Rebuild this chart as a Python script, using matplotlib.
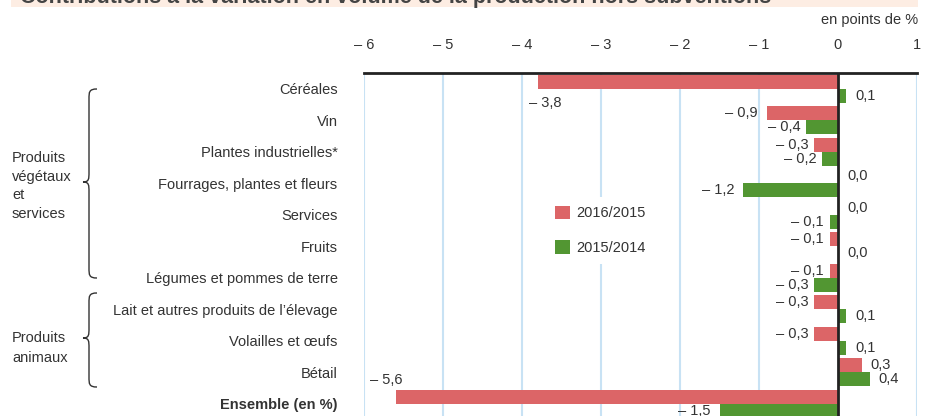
import matplotlib.pyplot as plt
from matplotlib.patches import Rectangle, PathPatch, Patch
from matplotlib.path import Path
from matplotlib import font_manager

# Data
categories = [
    "Céréales",
    "Vin",
    "Plantes industrielles*",
    "Fourrages, plantes et fleurs",
    "Services",
    "Fruits",
    "Légumes et pommes de terre",
    "Lait et autres produits de l’élevage",
    "Volailles et œufs",
    "Bétail",
    "Ensemble (en %)",
]
values_2016 = [-3.8, -0.9, -0.3, 0.0, 0.0, -0.1, -0.1, -0.3, -0.3, 0.3, -5.6]
values_2015 = [0.1, -0.4, -0.2, -1.2, -0.1, 0.0, -0.3, 0.1, 0.1, 0.4, -1.5]
series_labels = ["2016/2015", "2015/2014"]
x_ticks = [-6, -5, -4, -3, -2, -1, 0, 1]

RED = "#dc6567"
GREEN = "#529632"
GRID = "#c8e2f4"
TEXT = "#333333"

names = {f.name for f in font_manager.fontManager.ttflist}
NARROW = "Liberation Sans Narrow" if "Liberation Sans Narrow" in names else "Liberation Sans"
plt.rcParams["font.family"] = ["Liberation Sans", "DejaVu Sans"]


def fmt(v):
    s = f"{abs(v):.1f}".replace(".", ",")
    return ("– " + s) if v < 0 else s


def fmt_tick(v):
    return ("– " + str(abs(v))) if v < 0 else str(v)


fig = plt.figure(figsize=(9.33, 4.16), dpi=100, facecolor="white")
W, H = 933, 416

# main axes in pixel-derived fractions
left, right, top, bottom = 364, 917, 73, 419.5
ax = fig.add_axes([left / W, 1 - bottom / H, (right - left) / W, (bottom - top) / H])
ax.set_xlim(-6, 1)
ax.set_ylim(len(categories) - 0.5, -0.5)

ys = list(range(len(categories)))
bh = 0.445
ax.barh([y - bh / 2 for y in ys], values_2016, height=bh, color=RED, zorder=3)
ax.barh([y + bh / 2 for y in ys], values_2015, height=bh, color=GREEN, zorder=3)

ax.set_xticks(x_ticks)
ax.set_xticklabels([fmt_tick(t) for t in x_ticks], family=NARROW, fontsize=10.5, color=TEXT)
ax.xaxis.tick_top()
ax.tick_params(axis="x", length=0, pad=15)
ax.set_yticks(ys)
ax.set_yticklabels(categories, fontsize=10.5, color=TEXT)
ax.get_yticklabels()[-1].set_fontweight("bold")
ax.tick_params(axis="y", length=0, pad=19)
for t in x_ticks:
    if t != 0:
        ax.axvline(t, color=GRID, lw=1.5, zorder=1)
ax.axvline(0, color="#222222", lw=2, zorder=4)
for s in ["left", "right", "bottom"]:
    ax.spines[s].set_visible(False)
ax.spines["top"].set_linewidth(2)
ax.spines["top"].set_color("#222222")
ax.spines["top"].set_zorder(5)

# value labels (pixel offsets from bar end)
special = {
    (0, 0): (7, -21, "center"),
    (0, 10): (-9, 17, "center"),
}
for s, (vals, sign) in enumerate([(values_2016, -1), (values_2015, 1)]):
    for i, v in enumerate(vals):
        yc = ys[i] + sign * bh / 2
        if (s, i) in special:
            dx, dy, ha = special[(s, i)]
        elif v < 0:
            dx, dy, ha = (-9 if v <= -0.9 else -6), 0, "right"
        else:
            dx, dy, ha = 9, 0, "left"
        ax.annotate(fmt(v), (v, yc), xytext=(dx, dy), textcoords="offset pixels",
                    ha=ha, va="center", fontsize=10.5, family=NARROW, color=TEXT, zorder=6)

handles = [Patch(facecolor=RED), Patch(facecolor=GREEN)]
leg = ax.legend(handles, series_labels, loc="upper left",
                bbox_to_anchor=((546 - left) / (right - left), 1 - (197 - top) / (bottom - top)),
                frameon=True, handlelength=1.05, handleheight=1.05,
                labelspacing=1.35, handletextpad=0.45, borderpad=0.6, borderaxespad=0,
                prop={"family": NARROW, "size": 10.5})
leg.get_frame().set_facecolor("white")
leg.get_frame().set_edgecolor("none")
leg.get_frame().set_alpha(1)
leg.set_zorder(5)
for t in leg.get_texts():
    t.set_color(TEXT)

# overlay for annotations in pixel coordinates
ov = fig.add_axes([0, 0, 1, 1], zorder=-1)
ov.set_xlim(0, W)
ov.set_ylim(H, 0)
ov.axis("off")
ov.add_patch(Rectangle((11, 0), 907, 7, facecolor="#fdede3", edgecolor="none"))
ov.text(20, 3, "Contributions à la variation en volume de la production hors subventions",
        ha="left", va="baseline", fontsize=15.5, fontweight="bold", color="#444444")
ov.text(918, 20, "en points de %", ha="right", va="center", fontsize=10.5, family=NARROW, color=TEXT)


def brace(yt, yb, ym, xe=97, xs=89, xt=83, r=10):
    verts = [(xe, yt), (xs, yt), (xs, yt + r * 0.3), (xs, yt + r),
             (xs, ym - r),
             (xs, ym - r * 0.3), (xs, ym), (xt, ym),
             (xs, ym), (xs, ym + r * 0.3), (xs, ym + r),
             (xs, yb - r),
             (xs, yb - r * 0.3), (xs, yb), (xe, yb)]
    codes = [Path.MOVETO, Path.CURVE4, Path.CURVE4, Path.CURVE4, Path.LINETO,
             Path.CURVE4, Path.CURVE4, Path.CURVE4, Path.CURVE4, Path.CURVE4, Path.CURVE4,
             Path.LINETO, Path.CURVE4, Path.CURVE4, Path.CURVE4]
    ov.add_patch(PathPatch(Path(verts, codes), facecolor="none", edgecolor=TEXT, lw=1))


brace(89, 278, 182)
brace(293, 387, 338)
ov.text(12, 186, "Produits\nvégétaux\net\nservices", ha="left", va="center", fontsize=10.5,
        color=TEXT, linespacing=1.4)
ov.text(12, 348, "Produits\nanimaux", ha="left", va="center", fontsize=10.5,
        color=TEXT, linespacing=1.5)

fig.savefig("out.png", dpi=100, facecolor="white")
